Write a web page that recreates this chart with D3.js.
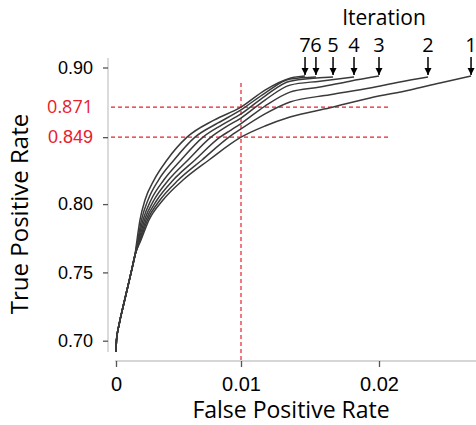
<!DOCTYPE html>
<html>
<head>
<meta charset="utf-8">
<script src="https://cdnjs.cloudflare.com/ajax/libs/d3/7.8.5/d3.min.js"></script>
<style>
body { margin: 0; background: #fff; }
svg { display: block; font-family: "Open Sans", "Noto Sans", sans-serif; }
</style>
</head>
<body>
<svg id="chart" width="476" height="425"></svg>
<script>
// ROC curves per iteration
var trunk = [[0,0.6917],[0.00004,0.7005],[0.00024,0.7115],[0.00056,0.7247],[0.00088,0.7371],[0.0012,0.7496],[0.00152,0.7627]];

var iter7 = [[0.00168,0.7737],[0.00192,0.7884],[0.00232,0.803],[0.00304,0.8176],[0.00408,0.8323],[0.00568,0.849],[0.00784,0.8615],[0.01,0.871],[0.01174,0.8835],[0.01355,0.8922],[0.01464,0.8937]];
var iter6 = [[0.00174,0.7737],[0.00204,0.7884],[0.00256,0.803],[0.0034,0.8176],[0.00464,0.8323],[0.00632,0.849],[0.00816,0.8594],[0.01,0.869],[0.01174,0.8813],[0.01355,0.8915],[0.01543,0.893]];
var iter5 = [[0.00178,0.7737],[0.00216,0.7884],[0.0028,0.803],[0.00382,0.8176],[0.0052,0.8323],[0.00696,0.849],[0.00848,0.858],[0.01,0.866],[0.01174,0.8791],[0.01355,0.890],[0.01667,0.893]];
var iter4 = [[0.00184,0.7737],[0.00228,0.7884],[0.00304,0.803],[0.0042,0.8176],[0.00576,0.8323],[0.0076,0.849],[0.0088,0.8565],[0.01,0.863],[0.01174,0.8762],[0.01355,0.8871],[0.01572,0.890],[0.01819,0.893]];
var iter3 = [[0.0019,0.7737],[0.0024,0.7884],[0.00328,0.803],[0.00458,0.8176],[0.00632,0.8323],[0.00832,0.849],[0.0092,0.8542],[0.01,0.859],[0.01174,0.8718],[0.01355,0.882],[0.01572,0.8857],[0.0179,0.890],[0.02,0.8937]];
var iter2 = [[0.00194,0.7737],[0.00252,0.7884],[0.00352,0.803],[0.00498,0.8176],[0.00688,0.8323],[0.00904,0.849],[0.01,0.855],[0.01174,0.866],[0.01355,0.8747],[0.01645,0.880],[0.01935,0.885],[0.02152,0.8894],[0.02355,0.893]];
var iter1 = [[0.002,0.7737],[0.00264,0.7884],[0.00376,0.803],[0.00536,0.8176],[0.00744,0.8323],[0.01,0.849],[0.01174,0.8572],[0.01355,0.8638],[0.01645,0.8705],[0.01935,0.8777],[0.02225,0.8836],[0.02442,0.8887],[0.02667,0.8937]];

var iterLabels = ["1","2","3","4","5","6","7"];
var xTicks = [0, 0.01, 0.02];
var xTickLabels = ["0", "0.01", "0.02"];
var yTicks = [0.70, 0.75, 0.80, 0.849, 0.90];
var yTickLabels = ["0.70", "0.75", "0.80", "0.849", "0.90"];
var marks = [0.871, 0.849];      // highlighted TPR at FPR = 0.01
var markFpr = 0.01;

var curves = [iter1, iter2, iter3, iter4, iter5, iter6, iter7].map(function (c) { return trunk.concat(c); });

var svg = d3.select("#chart");

// x axis is not quite linear in the figure, so use a polylinear scale
var x = d3.scaleLinear().domain([0, 0.01, 0.02]).range([116, 241, 379]);
var y = d3.scaleLinear().domain([0.70, 0.90]).range([340.7, 67.5]);

var axisGrey = "#c8c8c8", tickGrey = "#555", red = "#e8202a";

// y axis
var yAxis = svg.append("g").attr("transform", "translate(108,0)")
    .call(d3.axisLeft(y).tickValues(yTicks).tickSize(5).tickPadding(10)
        .tickFormat(function (d, i) { return yTickLabels[i]; }));
yAxis.select(".domain").attr("d", "M0,58V352").attr("stroke", axisGrey).attr("stroke-width", 1.3);
yAxis.selectAll(".tick line").attr("stroke", tickGrey).attr("stroke-width", 1.3);
yAxis.selectAll(".tick text").attr("font-size", 18).attr("font-family", null)
    .attr("fill", function (d) { return d == 0.849 ? red : "#000"; });

// x axis
var xAxis = svg.append("g").attr("transform", "translate(0,361)")
    .call(d3.axisBottom(x).tickValues(xTicks).tickSize(6).tickPadding(10)
        .tickFormat(function (d, i) { return xTickLabels[i]; }));
xAxis.select(".domain").attr("d", "M115,0H476").attr("stroke", axisGrey).attr("stroke-width", 1.3);
xAxis.selectAll(".tick line").attr("stroke", tickGrey).attr("stroke-width", 1.3);
xAxis.selectAll(".tick text").attr("font-size", 20).attr("font-family", null).attr("fill", "#000");

// extra red label without a tick
svg.append("text").attr("x", 93).attr("y", y(0.871)).attr("dy", "0.32em")
    .attr("text-anchor", "end").attr("font-size", 18).attr("fill", red).text("0.871");

// dashed reference lines
svg.selectAll(".hmark").data(marks).enter().append("line")
    .attr("x1", 111).attr("x2", x(0.0207))
    .attr("y1", function (d) { return y(d); }).attr("y2", function (d) { return y(d); })
    .attr("stroke", red).attr("stroke-width", 1.2).attr("stroke-dasharray", "4,3");
svg.append("line").attr("x1", x(markFpr)).attr("x2", x(markFpr))
    .attr("y1", y(0.8887)).attr("y2", 361)
    .attr("stroke", red).attr("stroke-width", 1.2).attr("stroke-dasharray", "4,3");

// curves
var line = d3.line().x(function (d) { return x(d[0]); }).y(function (d) { return y(d[1]); })
    .curve(d3.curveMonotoneX);
svg.selectAll(".roc").data(curves).enter().append("path")
    .attr("class", "roc").attr("d", line)
    .attr("fill", "none").attr("stroke", "#3a3a3a").attr("stroke-width", 1.5);

// iteration labels + arrows at the end of each curve
svg.append("defs").append("marker").attr("id", "arrow")
    .attr("viewBox", "0 -5 10 10").attr("refX", 10).attr("refY", 0)
    .attr("markerWidth", 5).attr("markerHeight", 5).attr("orient", "auto")
    .append("path").attr("d", "M0,-5L10,0L0,5Z").attr("fill", "#000");

var ends = curves.map(function (c, i) { return { x: x(c[c.length - 1][0]), label: iterLabels[i] }; });
svg.selectAll(".itl").data(ends).enter().append("text")
    .attr("x", function (d) { return d.x; }).attr("y", 52)
    .attr("text-anchor", "middle").attr("font-size", 20).text(function (d) { return d.label; });
svg.selectAll(".arr").data(ends).enter().append("line")
    .attr("x1", function (d) { return d.x; }).attr("x2", function (d) { return d.x; })
    .attr("y1", 57).attr("y2", 75)
    .attr("stroke", "#000").attr("stroke-width", 1.5).attr("marker-end", "url(#arrow)");

svg.append("text").attr("x", 384).attr("y", 25).attr("text-anchor", "middle")
    .attr("font-size", 21).text("Iteration");

// axis titles
svg.append("text").attr("x", 291).attr("y", 418).attr("text-anchor", "middle")
    .attr("font-size", 23).text("False Positive Rate");
svg.append("text").attr("transform", "translate(28,214) rotate(-90)").attr("text-anchor", "middle")
    .attr("font-size", 24).text("True Positive Rate");
</script>
</body>
</html>
